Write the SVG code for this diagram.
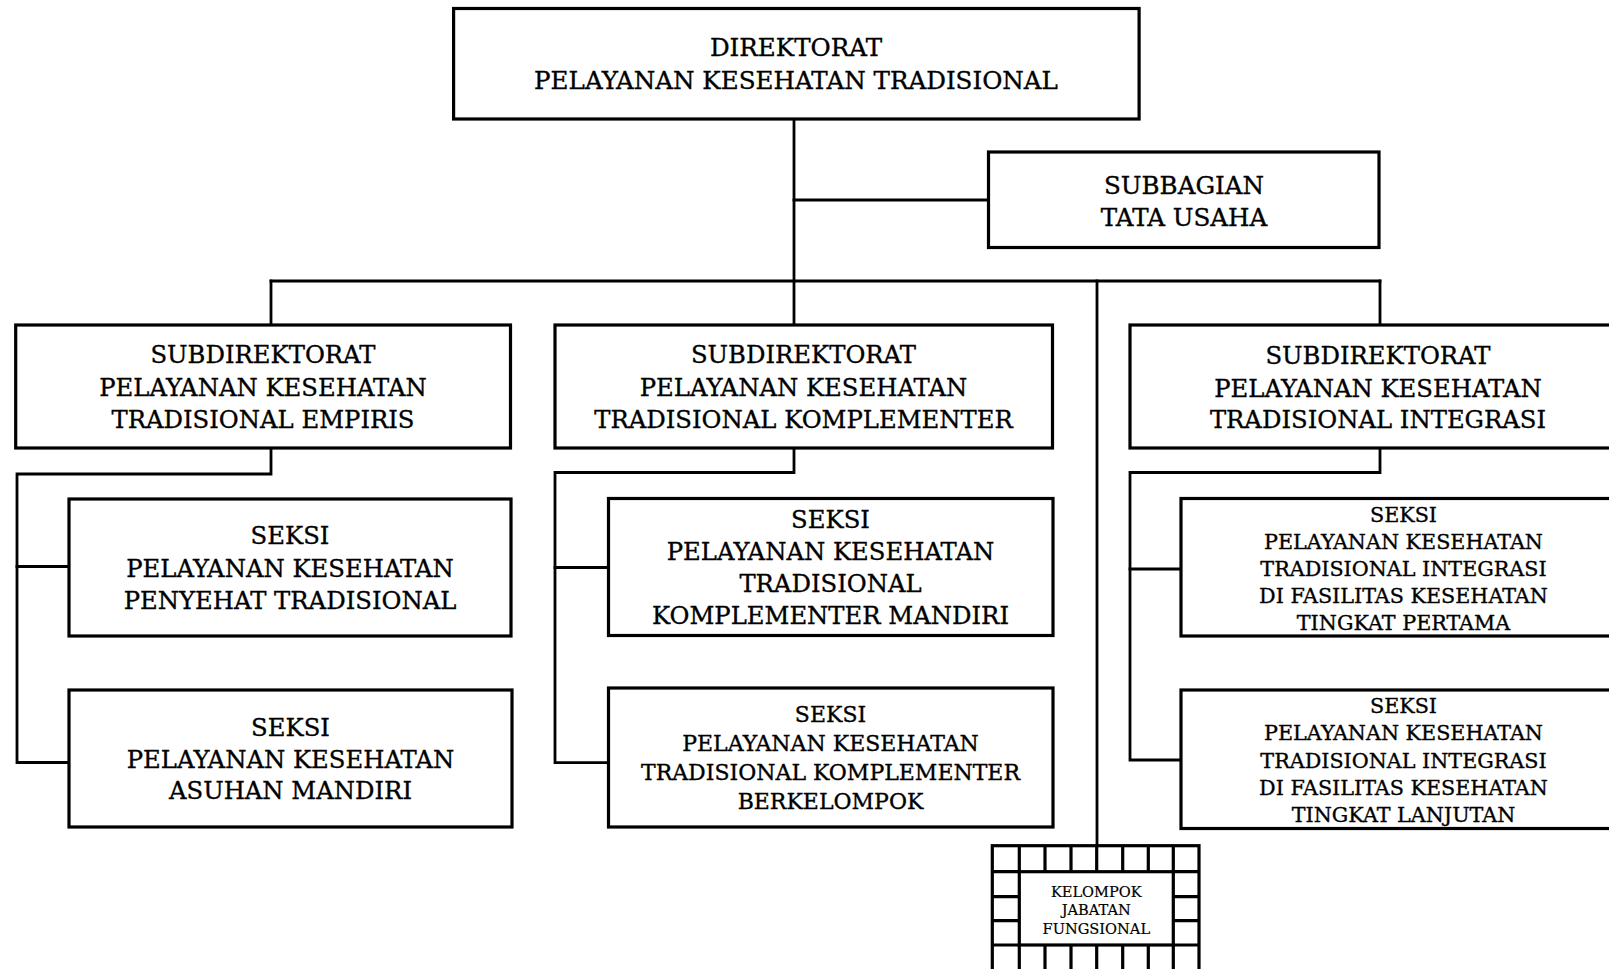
<svg xmlns="http://www.w3.org/2000/svg" width="1609" height="969" viewBox="0 0 1609 969">
  <style>
    .box { fill: #ffffff; stroke: #000000; stroke-width: 3.2; }
    .grid { fill: none; stroke: #000000; stroke-width: 3.2; }
    .link { fill: none; stroke: #000000; stroke-width: 2.8; stroke-linecap: square; }
    text { font-family: "DejaVu Serif", "Liberation Serif", serif; fill: #000000; stroke: #000000; stroke-width: 0.35; text-anchor: middle; }
    .t25 { font-size: 24.6px; }
    .t24 { font-size: 24.3px; }
    .t22 { font-size: 22px; }
    .t21 { font-size: 20.7px; }
    .t15 { font-size: 14.6px; stroke-width: 0.2; }
  </style>
  <rect width="1609" height="969" fill="#ffffff"/>

  <!-- connectors -->
  <g id="connectors">
    <!-- direktorat trunk down to middle subdirektorat -->
    <path class="link" d="M794 119 V325"/>
    <!-- branch to subbagian -->
    <path class="link" d="M794 200 H988"/>
    <!-- main bar across subdirektorat level -->
    <path class="link" d="M271 281 H1380"/>
    <path class="link" d="M271 281 V325"/>
    <path class="link" d="M1380 281 V325"/>
    <!-- trunk to kelompok jabatan fungsional -->
    <path class="link" d="M1097 281 V846"/>
    <!-- column 1 -->
    <path class="link" d="M271 448 V474 H17 V762.5 H69"/>
    <path class="link" d="M17 566.5 H69"/>
    <!-- column 2 -->
    <path class="link" d="M794 448 V472.5 H555 V762.7 H608.5"/>
    <path class="link" d="M555 567.5 H608.5"/>
    <!-- column 3 -->
    <path class="link" d="M1380 448 V472.5 H1130 V760 H1181"/>
    <path class="link" d="M1130 569 H1181"/>
  </g>

  <g id="direktorat">
    <rect class="box" x="453.6" y="8.5" width="685.5" height="110.5"/>
    <text class="t25" x="796" y="56">DIREKTORAT</text>
    <text class="t25" x="796" y="89">PELAYANAN KESEHATAN TRADISIONAL</text>
  </g>

  <g id="subbagian-tu">
    <rect class="box" x="988.5" y="152" width="390.5" height="95.5"/>
    <text class="t25" x="1184" y="193.5">SUBBAGIAN</text>
    <text class="t25" x="1184" y="225.5">TATA USAHA</text>
  </g>

  <g id="subdit-empiris">
    <rect class="box" x="15.7" y="325" width="494.8" height="123"/>
    <text class="t24" x="263" y="363">SUBDIREKTORAT</text>
    <text class="t24" x="263" y="395.5">PELAYANAN KESEHATAN</text>
    <text class="t24" x="263" y="427.5">TRADISIONAL EMPIRIS</text>
  </g>

  <g id="subdit-komplementer">
    <rect class="box" x="555" y="325" width="497.5" height="123"/>
    <text class="t24" x="803.5" y="363">SUBDIREKTORAT</text>
    <text class="t24" x="803.5" y="395.5">PELAYANAN KESEHATAN</text>
    <text class="t24" x="803.5" y="427.5">TRADISIONAL KOMPLEMENTER</text>
  </g>

  <g id="subdit-integrasi">
    <rect class="box" x="1130" y="325" width="496" height="123"/>
    <text class="t24" x="1378" y="364">SUBDIREKTORAT</text>
    <text class="t24" x="1378" y="396.5">PELAYANAN KESEHATAN</text>
    <text class="t24" x="1378" y="428">TRADISIONAL INTEGRASI</text>
  </g>

  <g id="seksi-penyehat">
    <rect class="box" x="69" y="499" width="442" height="137"/>
    <text class="t24" x="290" y="544">SEKSI</text>
    <text class="t24" x="290" y="576.5">PELAYANAN KESEHATAN</text>
    <text class="t24" x="290" y="608.5">PENYEHAT TRADISIONAL</text>
  </g>

  <g id="seksi-asuhan">
    <rect class="box" x="69" y="690" width="443" height="137"/>
    <text class="t24" x="290.5" y="736">SEKSI</text>
    <text class="t24" x="290.5" y="767.5">PELAYANAN KESEHATAN</text>
    <text class="t24" x="290.5" y="799">ASUHAN MANDIRI</text>
  </g>

  <g id="seksi-komplementer-mandiri">
    <rect class="box" x="608.5" y="498.5" width="444.5" height="137"/>
    <text class="t24" x="830.5" y="527.5">SEKSI</text>
    <text class="t24" x="830.5" y="560">PELAYANAN KESEHATAN</text>
    <text class="t24" x="830.5" y="592">TRADISIONAL</text>
    <text class="t24" x="830.5" y="624">KOMPLEMENTER MANDIRI</text>
  </g>

  <g id="seksi-komplementer-berkelompok">
    <rect class="box" x="608.5" y="688" width="444.5" height="139"/>
    <text class="t22" x="830.5" y="722">SEKSI</text>
    <text class="t22" x="830.5" y="751">PELAYANAN KESEHATAN</text>
    <text class="t22" x="830.5" y="780">TRADISIONAL KOMPLEMENTER</text>
    <text class="t22" x="830.5" y="808.5">BERKELOMPOK</text>
  </g>

  <g id="seksi-integrasi-pertama">
    <rect class="box" x="1181" y="498.5" width="446" height="137.5"/>
    <text class="t21" x="1403.5" y="522">SEKSI</text>
    <text class="t21" x="1403.5" y="549">PELAYANAN KESEHATAN</text>
    <text class="t21" x="1403.5" y="576">TRADISIONAL INTEGRASI</text>
    <text class="t21" x="1403.5" y="603">DI FASILITAS KESEHATAN</text>
    <text class="t21" x="1403.5" y="630">TINGKAT PERTAMA</text>
  </g>

  <g id="seksi-integrasi-lanjutan">
    <rect class="box" x="1181" y="690" width="446" height="138.5"/>
    <text class="t21" x="1403.5" y="713">SEKSI</text>
    <text class="t21" x="1403.5" y="740">PELAYANAN KESEHATAN</text>
    <text class="t21" x="1403.5" y="767.5">TRADISIONAL INTEGRASI</text>
    <text class="t21" x="1403.5" y="795">DI FASILITAS KESEHATAN</text>
    <text class="t21" x="1403.5" y="822">TINGKAT LANJUTAN</text>
  </g>

  <g id="kelompok-jabatan-fungsional">
    <!-- outer frame of bordered cells -->
    <rect class="box" x="992.3" y="845.7" width="206.7" height="125"/>
    <!-- inner panel -->
    <rect class="grid" x="1019.3" y="871.7" width="154" height="73.3"/>
    <!-- cell dividers on top and bottom rows -->
    <path class="grid" d="M1019.3 845.7 V871.7 M1045 845.7 V871.7 M1071 845.7 V871.7 M1096.7 845.7 V871.7 M1122.7 845.7 V871.7 M1148.3 845.7 V871.7 M1173.3 845.7 V871.7"/>
    <path class="grid" d="M1019.3 945 V971 M1045 945 V971 M1071 945 V971 M1096.7 945 V971 M1122.7 945 V971 M1148.3 945 V971 M1173.3 945 V971"/>
    <!-- cell dividers on side columns -->
    <path class="grid" d="M992.3 871.7 H1019.3 M992.3 896.7 H1019.3 M992.3 920.7 H1019.3 M992.3 945 H1019.3"/>
    <path class="grid" d="M1173.3 871.7 H1199 M1173.3 896.7 H1199 M1173.3 920.7 H1199 M1173.3 945 H1199"/>
    <text class="t15" x="1096.3" y="896.5">KELOMPOK</text>
    <text class="t15" x="1096.3" y="915">JABATAN</text>
    <text class="t15" x="1096.3" y="934">FUNGSIONAL</text>
  </g>
</svg>
